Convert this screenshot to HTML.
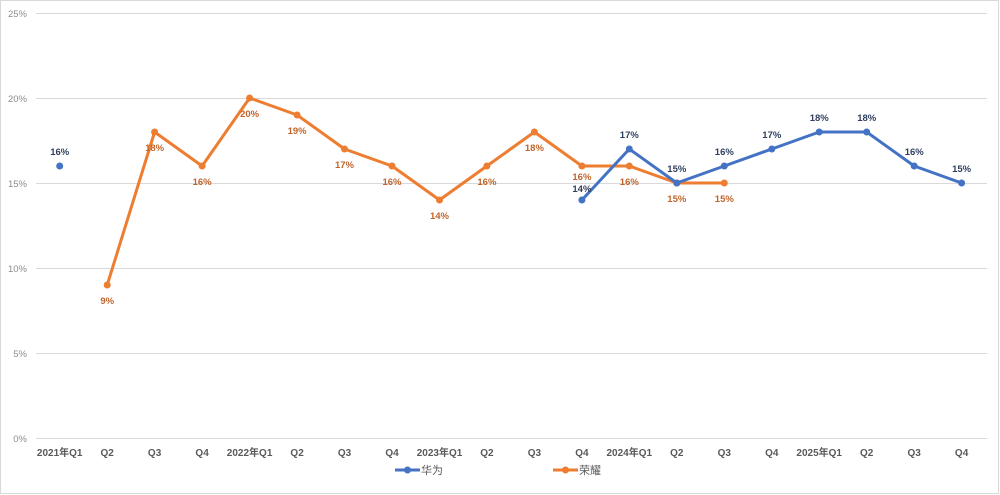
<!DOCTYPE html>
<html><head><meta charset="utf-8"><style>
html,body{margin:0;padding:0;background:#fff;}
svg{display:block;}
text{font-family:"Liberation Sans","Noto Sans CJK SC",sans-serif;}
</style></head><body>
<svg width="1000" height="495" viewBox="0 0 1000 495" xmlns="http://www.w3.org/2000/svg">
<rect x="0.5" y="0.5" width="998" height="493" fill="#fff" stroke="#d9d9d9" stroke-width="1"/>
<g stroke="#d9d9d9" stroke-width="1">
<line x1="36" y1="13.5" x2="987" y2="13.5"/>
<line x1="36" y1="98.5" x2="987" y2="98.5"/>
<line x1="36" y1="183.5" x2="987" y2="183.5"/>
<line x1="36" y1="268.5" x2="987" y2="268.5"/>
<line x1="36" y1="353.5" x2="987" y2="353.5"/>
<line x1="36" y1="438.5" x2="987" y2="438.5"/>
</g>
<g font-size="9.5" fill="#8c8c8c" text-anchor="end">
<text x="27" y="17">25%</text>
<text x="27" y="102">20%</text>
<text x="27" y="187">15%</text>
<text x="27" y="272">10%</text>
<text x="27" y="357">5%</text>
<text x="27" y="442">0%</text>
</g>
<g font-size="10" font-weight="bold" fill="#595959" text-anchor="middle">
<text x="59.7" y="456">2021年Q1</text>
<text x="107.2" y="456">Q2</text>
<text x="154.6" y="456">Q3</text>
<text x="202.1" y="456">Q4</text>
<text x="249.6" y="456">2022年Q1</text>
<text x="297.1" y="456">Q2</text>
<text x="344.5" y="456">Q3</text>
<text x="392" y="456">Q4</text>
<text x="439.5" y="456">2023年Q1</text>
<text x="486.9" y="456">Q2</text>
<text x="534.4" y="456">Q3</text>
<text x="581.9" y="456">Q4</text>
<text x="629.3" y="456">2024年Q1</text>
<text x="676.8" y="456">Q2</text>
<text x="724.3" y="456">Q3</text>
<text x="771.8" y="456">Q4</text>
<text x="819.2" y="456">2025年Q1</text>
<text x="866.7" y="456">Q2</text>
<text x="914.2" y="456">Q3</text>
<text x="961.6" y="456">Q4</text>
</g>
<!-- Honor -->
<polyline fill="none" stroke="#ED7D31" stroke-width="3" stroke-linejoin="round" points="107.2,285 154.6,132 202.1,166 249.6,98 297.1,115 344.5,149 392,166 439.5,200 486.9,166 534.4,132 581.9,166 629.3,166 676.8,183 724.3,183"/>
<g fill="#ED7D31">
<circle cx="107.2" cy="285" r="3.5"/><circle cx="154.6" cy="132" r="3.5"/><circle cx="202.1" cy="166" r="3.5"/><circle cx="249.6" cy="98" r="3.5"/><circle cx="297.1" cy="115" r="3.5"/><circle cx="344.5" cy="149" r="3.5"/><circle cx="392" cy="166" r="3.5"/><circle cx="439.5" cy="200" r="3.5"/><circle cx="486.9" cy="166" r="3.5"/><circle cx="534.4" cy="132" r="3.5"/><circle cx="581.9" cy="166" r="3.5"/><circle cx="629.3" cy="166" r="3.5"/><circle cx="676.8" cy="183" r="3.5"/><circle cx="724.3" cy="183" r="3.5"/>
</g>
<!-- Huawei -->
<polyline fill="none" stroke="#4472C4" stroke-width="3" stroke-linejoin="round" points="581.9,200 629.3,149 676.8,183 724.3,166 771.8,149 819.2,132 866.7,132 914.2,166 961.6,183"/>
<g fill="#4472C4">
<circle cx="59.7" cy="166" r="3.5"/>
<circle cx="581.9" cy="200" r="3.5"/><circle cx="629.3" cy="149" r="3.5"/><circle cx="676.8" cy="183" r="3.5"/><circle cx="724.3" cy="166" r="3.5"/><circle cx="771.8" cy="149" r="3.5"/><circle cx="819.2" cy="132" r="3.5"/><circle cx="866.7" cy="132" r="3.5"/><circle cx="914.2" cy="166" r="3.5"/><circle cx="961.6" cy="183" r="3.5"/>
</g>
<!-- Honor labels -->
<g font-size="9.5" font-weight="bold" fill="#C0652B" text-anchor="middle">
<text x="107.2" y="304">9%</text>
<text x="154.6" y="151">18%</text>
<text x="202.1" y="185">16%</text>
<text x="249.6" y="117">20%</text>
<text x="297.1" y="134">19%</text>
<text x="344.5" y="168">17%</text>
<text x="392" y="185">16%</text>
<text x="439.5" y="219">14%</text>
<text x="486.9" y="185">16%</text>
<text x="534.4" y="151">18%</text>
<text x="581.9" y="180">16%</text>
<text x="629.3" y="185">16%</text>
<text x="676.8" y="202">15%</text>
<text x="724.3" y="202">15%</text>
</g>
<!-- Huawei labels -->
<g font-size="9.5" font-weight="bold" fill="#2F3F5F" text-anchor="middle">
<text x="59.7" y="155">16%</text>
<text x="581.9" y="192">14%</text>
<text x="629.3" y="138">17%</text>
<text x="676.8" y="172">15%</text>
<text x="724.3" y="155">16%</text>
<text x="771.8" y="138">17%</text>
<text x="819.2" y="121">18%</text>
<text x="866.7" y="121">18%</text>
<text x="914.2" y="155">16%</text>
<text x="961.6" y="172">15%</text>
</g>
<!-- Legend -->
<line x1="395" y1="470" x2="420" y2="470" stroke="#4472C4" stroke-width="3"/>
<circle cx="407.5" cy="470" r="3.5" fill="#4472C4"/>
<text x="421" y="474" font-size="11" fill="#595959">华为</text>
<line x1="553" y1="470" x2="578" y2="470" stroke="#ED7D31" stroke-width="3"/>
<circle cx="565.5" cy="470" r="3.5" fill="#ED7D31"/>
<text x="579" y="474" font-size="11" fill="#595959">荣耀</text>
</svg>
</body></html>
